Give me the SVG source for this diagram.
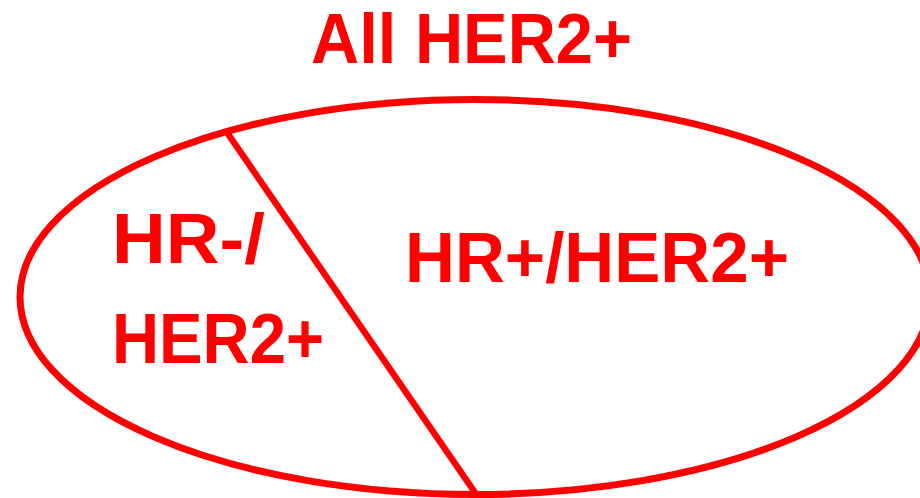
<svg xmlns="http://www.w3.org/2000/svg" width="920" height="498" viewBox="0 0 920 498">
  <style>
    .shape { fill: none; stroke: #FF0000; stroke-width: 7; }
    .divider { stroke: #FF0000; stroke-width: 6.5; fill: none; }
    .lbl { font-family: "Liberation Sans", Arial, sans-serif; font-weight: bold; font-size: 70px; fill: #FF0000; }
  </style>
  <rect width="920" height="498" fill="#FFFFFF"/>
  <g id="title">
    <text class="lbl" x="311" y="63" textLength="321" lengthAdjust="spacingAndGlyphs">All HER2+</text>
  </g>
  <g id="all-her2">
    <ellipse class="shape" cx="475" cy="297" rx="455" ry="197.5"/>
  </g>
  <g id="connectors">
    <line class="divider" x1="226" y1="131" x2="476" y2="494"/>
  </g>
  <g id="hr-neg">
    <text class="lbl" x="112" y="263" textLength="153" lengthAdjust="spacingAndGlyphs">HR-/</text>
    <text class="lbl" x="112" y="363" textLength="212" lengthAdjust="spacingAndGlyphs">HER2+</text>
  </g>
  <g id="hr-pos">
    <text class="lbl" x="405" y="282" textLength="384" lengthAdjust="spacingAndGlyphs">HR+/HER2+</text>
  </g>
</svg>
